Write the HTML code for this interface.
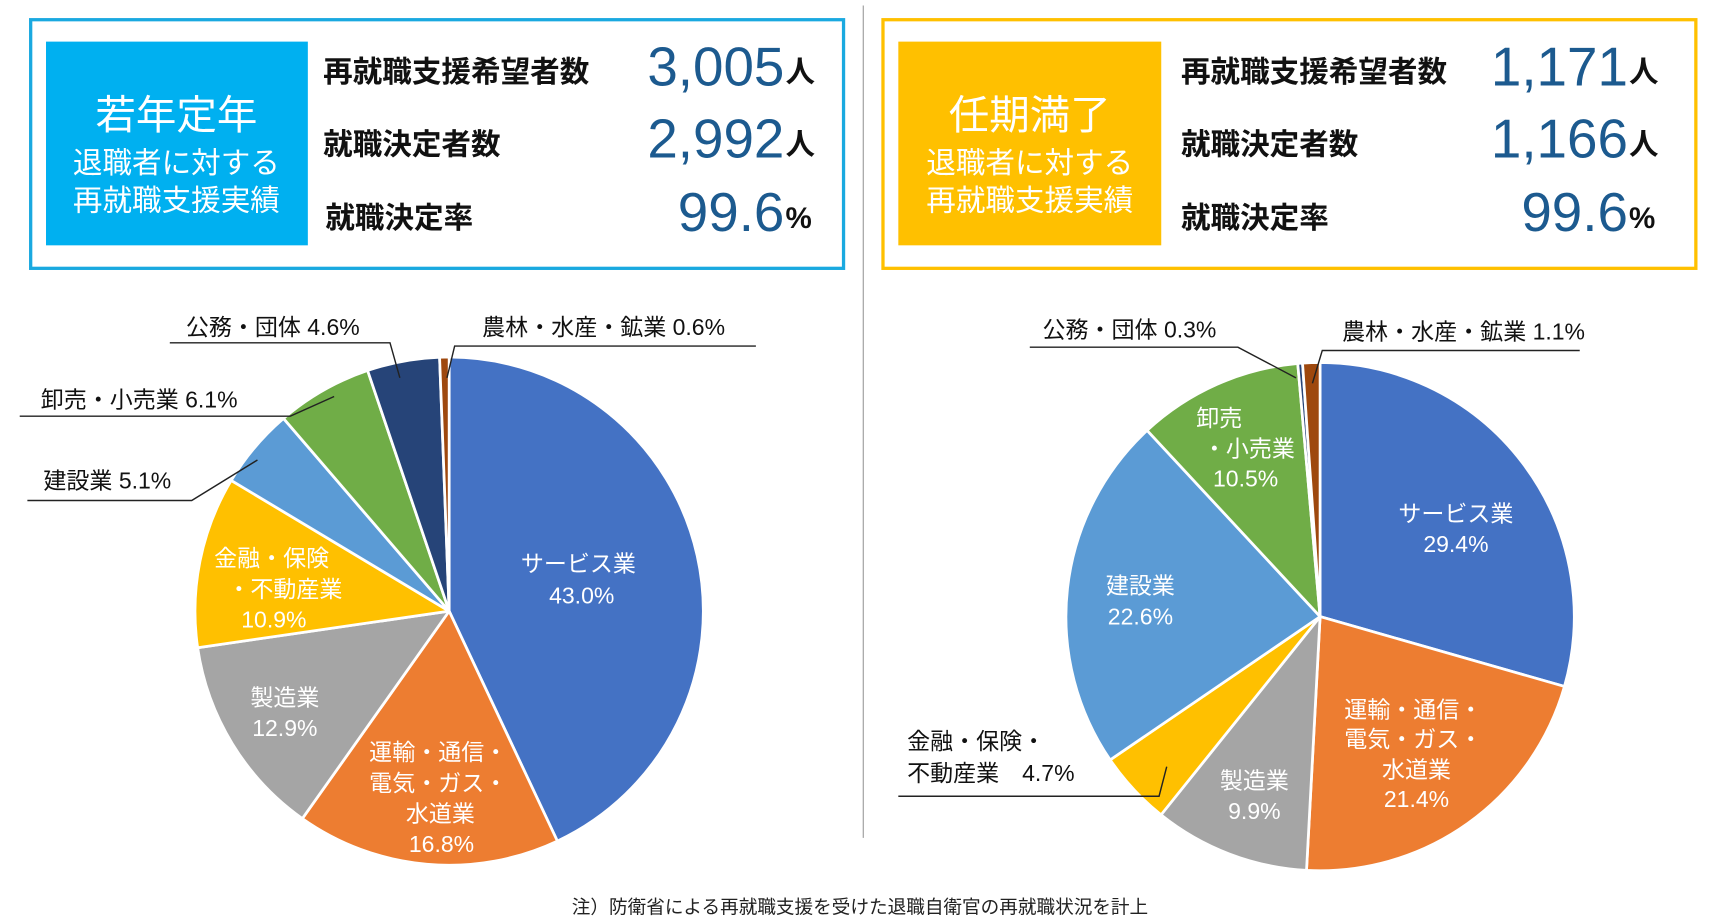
<!DOCTYPE html>
<html><head><meta charset="utf-8"><style>
html,body{margin:0;padding:0;background:#fff;}
svg{display:block;font-family:"Liberation Sans","Noto Sans CJK JP",sans-serif;}
.w{fill:#fff;font-size:21px;text-anchor:middle;}
.b{fill:#111;font-size:21px;}
.h{fill:#111;font-size:27px;font-weight:bold;}
.n{fill:#1c5a8f;font-size:50px;text-anchor:end;}
.u{fill:#111;font-size:27px;font-weight:bold;}
</style></head><body>
<svg width="1709" height="920" viewBox="0 0 1560 840" preserveAspectRatio="none" xmlns="http://www.w3.org/2000/svg">
<rect width="1560" height="840" fill="#fff"/>
<line x1="788" y1="5" x2="788" y2="765" stroke="#999" stroke-width="1"/>
<rect x="28" y="18" width="742" height="227" fill="none" stroke="#1aa9e0" stroke-width="3"/>
<rect x="42" y="38" width="239" height="186" fill="#00b0f0"/>
<text x="161" y="118" fill="#fff" font-size="37" text-anchor="middle">若年定年</text>
<text x="161" y="158" fill="#fff" font-size="27" text-anchor="middle">退職者に対する</text>
<text x="161" y="192" fill="#fff" font-size="27" text-anchor="middle">再就職支援実績</text>
<text x="295" y="75" class="h">再就職支援希望者数</text>
<text x="295" y="141" class="h">就職決定者数</text>
<text x="297" y="208" class="h">就職決定率</text>
<text x="716" y="78" class="n">3,005</text><text x="717" y="75" class="u">人</text>
<text x="716" y="144" class="n">2,992</text><text x="717" y="141" class="u">人</text>
<text x="716" y="211" class="n">99.6</text><text x="717" y="208" class="u">%</text>
<rect x="806" y="18" width="742" height="227" fill="none" stroke="#ffc000" stroke-width="3"/>
<rect x="820" y="38" width="240" height="186" fill="#ffc000"/>
<text x="940" y="118" fill="#fff" font-size="37" text-anchor="middle">任期満了</text>
<text x="940" y="158" fill="#fff" font-size="27" text-anchor="middle">退職者に対する</text>
<text x="940" y="192" fill="#fff" font-size="27" text-anchor="middle">再就職支援実績</text>
<text x="1078" y="75" class="h">再就職支援希望者数</text>
<text x="1078" y="141" class="h">就職決定者数</text>
<text x="1078" y="208" class="h">就職決定率</text>
<text x="1486" y="78" class="n">1,171</text><text x="1487" y="75" class="u">人</text>
<text x="1486" y="144" class="n">1,166</text><text x="1487" y="141" class="u">人</text>
<text x="1486" y="211" class="n">99.6</text><text x="1487" y="208" class="u">%</text>
<g id="pies"></g>
<g class="w">
<text x="528" y="522">サービス業</text><text x="531" y="551">43.0%</text>
<text x="248" y="517">金融・保険</text><text x="260" y="545">・不動産業</text><text x="250" y="573">10.9%</text>
<text x="260" y="644">製造業</text><text x="260" y="672">12.9%</text>
<text x="400" y="694">運輸・通信・</text><text x="400" y="722">電気・ガス・</text><text x="402" y="750">水道業</text><text x="403" y="778">16.8%</text>
</g>
<g class="b">
<text x="249" y="306" text-anchor="middle">公務・団体 4.6%</text>
<text x="551" y="306" text-anchor="middle">農林・水産・鉱業 0.6%</text>
<text x="127" y="372" text-anchor="middle">卸売・小売業 6.1%</text>
<text x="98" y="446" text-anchor="middle">建設業 5.1%</text>
</g>
<g fill="none" stroke="#222" stroke-width="1.3">
<polyline points="155,313 356,313 365,345"/>
<polyline points="690,316 415,316 408,345"/>
<polyline points="18,380 265,380 305,362"/>
<polyline points="25,457 175,457 235,420"/>
</g>
<g class="w">
<text x="1329" y="476">サービス業</text><text x="1329" y="504">29.4%</text>
<text x="1041" y="542">建設業</text><text x="1041" y="570">22.6%</text>
<text x="1113" y="389">卸売</text><text x="1140" y="417">・小売業</text><text x="1137" y="444">10.5%</text>
<text x="1290" y="655">運輸・通信・</text><text x="1290" y="682">電気・ガス・</text><text x="1293" y="710">水道業</text><text x="1293" y="737">21.4%</text>
<text x="1145" y="720">製造業</text><text x="1145" y="748">9.9%</text>
</g>
<g class="b">
<text x="828" y="684">金融・保険・</text>
<text x="828" y="713">不動産業　4.7%</text>
<text x="1031" y="308" text-anchor="middle">公務・団体 0.3%</text>
<text x="1336" y="310" text-anchor="middle">農林・水産・鉱業 1.1%</text>
</g>
<g fill="none" stroke="#222" stroke-width="1.3">
<polyline points="820,727 1058,727 1065,700"/>
<polyline points="940,317 1130,317 1183,345"/>
<polyline points="1442,320 1207,320 1198,350"/>
</g>
<text x="785" y="834" fill="#222" font-size="17" text-anchor="middle">注）防衛省による再就職支援を受けた退職自衛官の再就職状況を計上</text>
</svg>
<script>
function pie(cx,cy,r,data){
 var g=document.getElementById('pies'),a=-Math.PI/2,tot=0,s='';
 data.forEach(function(d){tot+=d[0];});
 data.forEach(function(d){
  var b=a+d[0]/tot*2*Math.PI;
  var x1=cx+r*Math.cos(a),y1=cy+r*Math.sin(a),x2=cx+r*Math.cos(b),y2=cy+r*Math.sin(b);
  var l=(b-a)>Math.PI?1:0;
  s+='<path d="M'+cx+','+cy+' L'+x1+','+y1+' A'+r+','+r+' 0 '+l+' 1 '+x2+','+y2+' Z" fill="'+d[1]+'" stroke="#fff" stroke-width="2.5" stroke-linejoin="round"/>';
  a=b;
 });
 g.innerHTML+=s;
}
pie(410,558,232,[[43.0,'#4472c4'],[16.8,'#ed7d31'],[12.9,'#a5a5a5'],[10.9,'#ffc000'],[5.1,'#5b9bd5'],[6.1,'#70ad47'],[4.6,'#264478'],[0.6,'#9e480e']]);
pie(1205,563,232,[[29.4,'#4472c4'],[21.4,'#ed7d31'],[9.9,'#a5a5a5'],[4.7,'#ffc000'],[22.6,'#5b9bd5'],[10.5,'#70ad47'],[0.3,'#264478'],[1.1,'#9e480e']]);
</script>
</body></html>
